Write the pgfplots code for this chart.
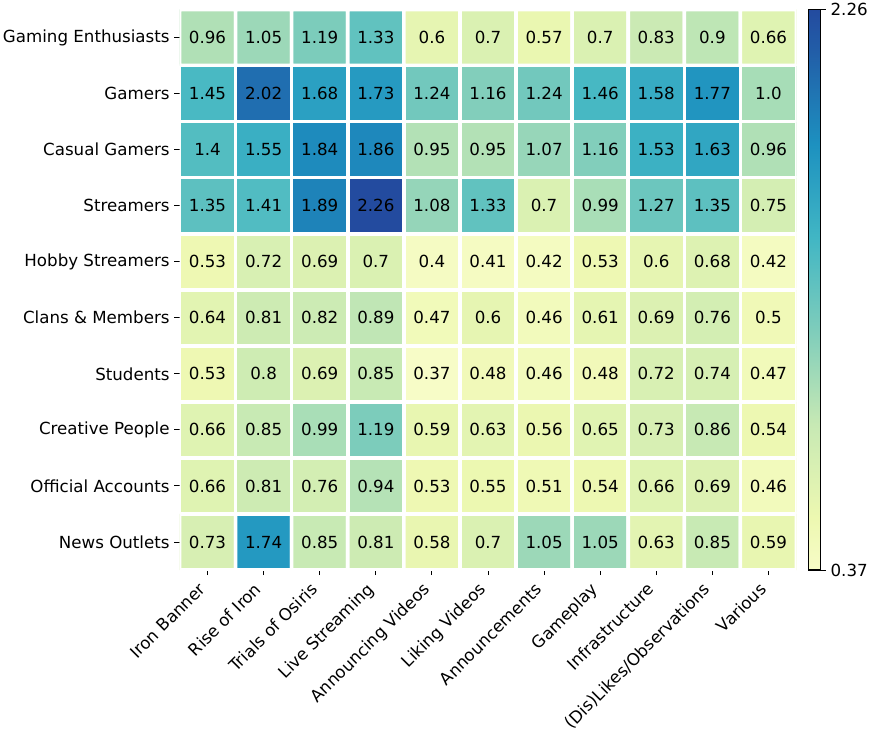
\documentclass[border=0pt]{standalone}
\usepackage{fontspec}
\setmainfont{DejaVu Sans}
\usepackage{pgfplots}
\usepackage{pgfplotstable}
\pgfplotsset{compat=1.18}

% YlGnBu, cut to the part used by the value range
\pgfplotsset{colormap={ylgnbucut}{
  rgb255(0pt)=(247,252,199);
  rgb255(93pt)=(237,248,177);
  rgb255(260pt)=(199,233,180);
  rgb255(426pt)=(127,205,187);
  rgb255(593pt)=(65,182,196);
  rgb255(759pt)=(29,145,192);
  rgb255(925pt)=(34,94,168);
  rgb255(1000pt)=(35,75,159)}}

\newcommand{\lblfont}{\fontsize{12}{14.4}\selectfont}

% column x, row y (0 = top row), value v
\pgfplotstableread{
x y v
0 0 0.96
1 0 1.05
2 0 1.19
3 0 1.33
4 0 0.6
5 0 0.7
6 0 0.57
7 0 0.7
8 0 0.83
9 0 0.9
10 0 0.66
0 1 1.45
1 1 2.02
2 1 1.68
3 1 1.73
4 1 1.24
5 1 1.16
6 1 1.24
7 1 1.46
8 1 1.58
9 1 1.77
10 1 1.0
0 2 1.4
1 2 1.55
2 2 1.84
3 2 1.86
4 2 0.95
5 2 0.95
6 2 1.07
7 2 1.16
8 2 1.53
9 2 1.63
10 2 0.96
0 3 1.35
1 3 1.41
2 3 1.89
3 3 2.26
4 3 1.08
5 3 1.33
6 3 0.7
7 3 0.99
8 3 1.27
9 3 1.35
10 3 0.75
0 4 0.53
1 4 0.72
2 4 0.69
3 4 0.7
4 4 0.4
5 4 0.41
6 4 0.42
7 4 0.53
8 4 0.6
9 4 0.68
10 4 0.42
0 5 0.64
1 5 0.81
2 5 0.82
3 5 0.89
4 5 0.47
5 5 0.6
6 5 0.46
7 5 0.61
8 5 0.69
9 5 0.76
10 5 0.5
0 6 0.53
1 6 0.8
2 6 0.69
3 6 0.85
4 6 0.37
5 6 0.48
6 6 0.46
7 6 0.48
8 6 0.72
9 6 0.74
10 6 0.47
0 7 0.66
1 7 0.85
2 7 0.99
3 7 1.19
4 7 0.59
5 7 0.63
6 7 0.56
7 7 0.65
8 7 0.73
9 7 0.86
10 7 0.54
0 8 0.66
1 8 0.81
2 8 0.76
3 8 0.94
4 8 0.53
5 8 0.55
6 8 0.51
7 8 0.54
8 8 0.66
9 8 0.69
10 8 0.46
0 9 0.73
1 9 1.74
2 9 0.85
3 9 0.81
4 9 0.58
5 9 0.7
6 9 1.05
7 9 1.05
8 9 0.63
9 9 0.85
10 9 0.59
}\heat

\begin{document}
\begin{tikzpicture}
\useasboundingbox (0,0) rectangle (628.56pt,528.48pt);
\begin{axis}[
  at={(129.24pt,118.08pt)}, anchor=south west,
  scale only axis, width=444.24pt, height=403.56pt,
  xmin=-0.5, xmax=10.5, ymin=-0.5, ymax=9.5, y dir=reverse,
  axis line style={draw=none},
  tick pos=left, tick align=outside, major tick length=3.6pt,
  tick style={black, line width=0.7pt},
  every tick label/.append style={font=\lblfont},
  xtick={0,...,10}, ytick={0,...,9},
  xticklabels={Iron Banner, Rise of Iron, Trials of Osiris, Live Streaming,
    Announcing Videos, Liking Videos, Announcements, Gameplay,
    Infrastructure, (Dis)Likes/Observations, Various},
  yticklabels={Gaming Enthusiasts, Gamers, Casual Gamers, Streamers,
    Hobby Streamers, Clans \& Members, Students, Creative People,
    Official Accounts, News Outlets},
  xticklabel style={rotate=45, anchor=north east, inner sep=0pt,
    text height=9.1pt, text depth=2.8pt, xshift=-8.4pt, yshift=2pt},
  yticklabel style={anchor=east},
  colormap name=ylgnbucut,
  point meta min=0.37, point meta max=2.26,
  colorbar,
  colorbar style={
    scale only axis, width=8.9pt, height=403.56pt,
    at={([xshift=13.7pt]parent axis.north east)}, anchor=north west,
    xshift=0pt, y dir=normal,
    ytick={0.37,2.26}, yticklabels={0.37,2.26},
    ytick pos=right, yticklabel pos=right,
    tick align=outside, major tick length=3.6pt,
    tick style={black, line width=0.7pt},
    axis line style={line width=0.8pt},
    yticklabel style={anchor=west, font=\lblfont},
  },
]
\addplot [matrix plot*, mesh/cols=11, mesh/ordering=x varies,
  point meta=explicit, draw=white, line width=2.6pt]
  table [x=x, y=y, meta=v] {\heat};
\addplot [draw=none, mark=none, point meta=explicit symbolic,
  nodes near coords,
  every node near coord/.append style={anchor=center, black,
    inner sep=0pt, font=\lblfont}]
  table [x=x, y=y, meta=v] {\heat};
\end{axis}
\end{tikzpicture}
\end{document}
